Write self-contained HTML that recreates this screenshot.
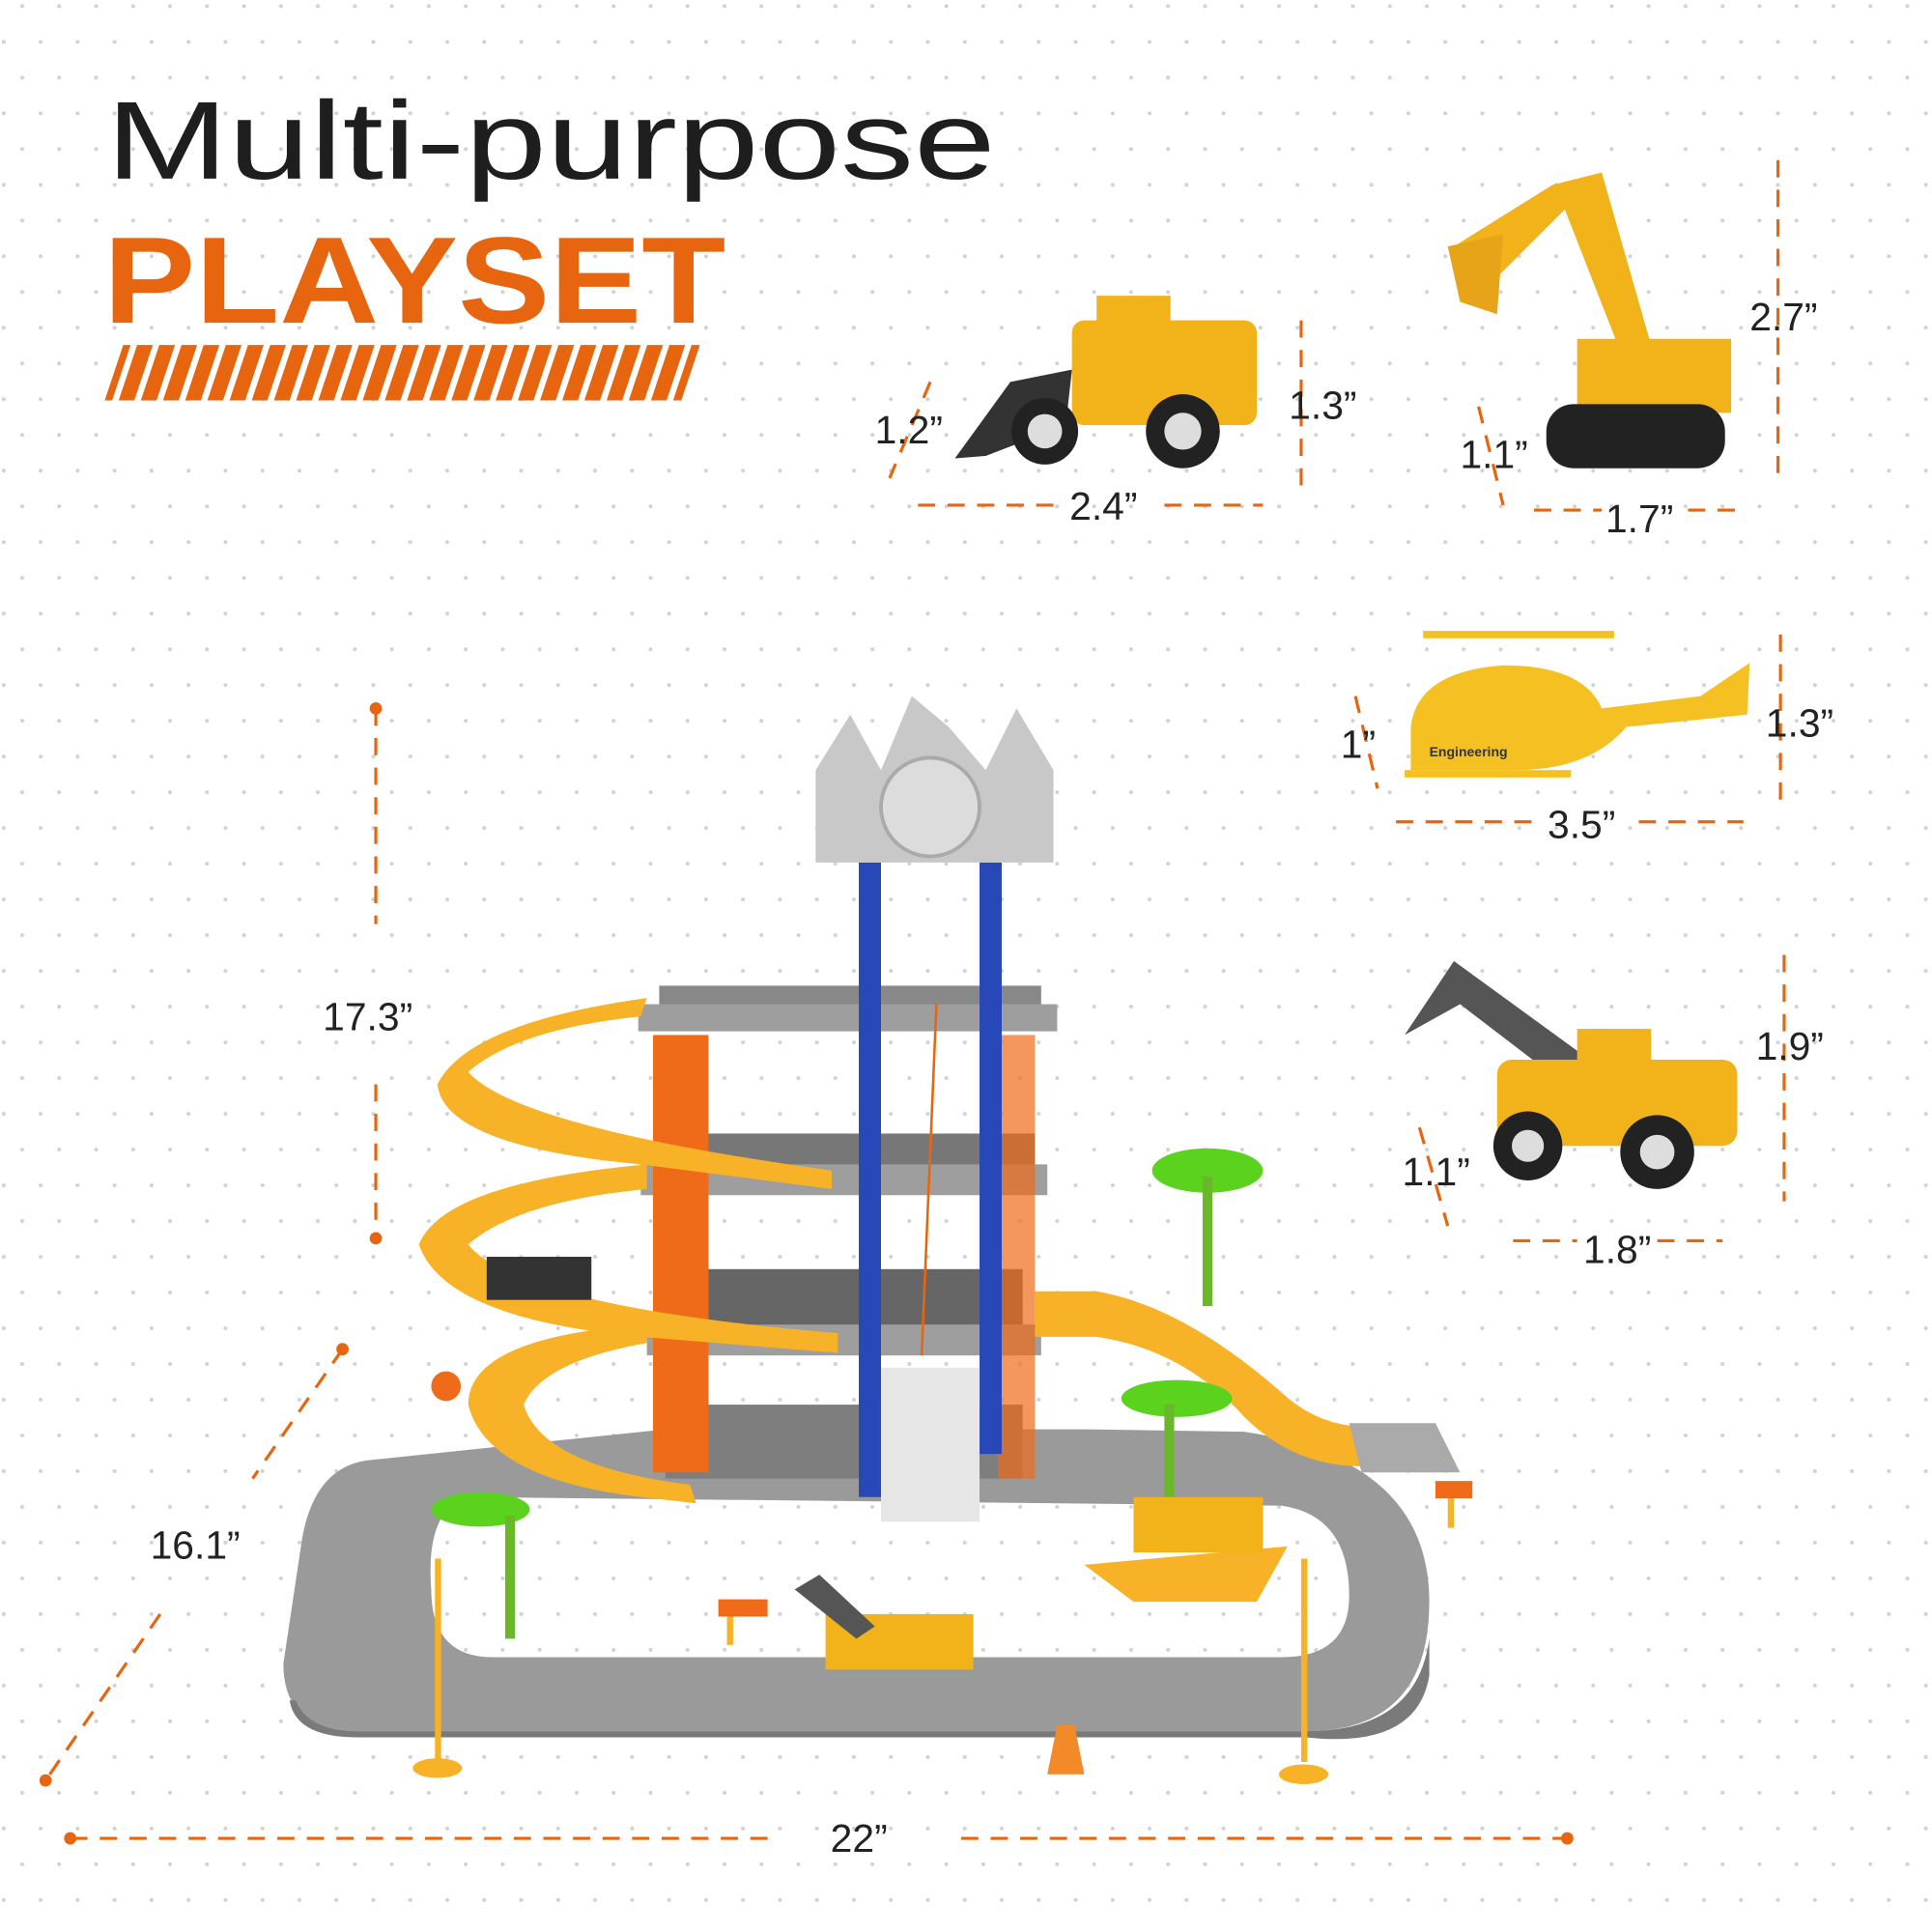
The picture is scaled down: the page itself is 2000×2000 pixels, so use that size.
<!DOCTYPE html>
<html><head><meta charset="utf-8"><style>
html,body{margin:0;padding:0;background:#fff;}
svg{display:block;}
text{font-family:"Liberation Sans",sans-serif;}
</style></head><body>
<svg width="2000" height="2000" viewBox="0 0 1568 1568" xmlns="http://www.w3.org/2000/svg">
<defs>
<pattern id="dots" x="0" y="0" width="30" height="58" patternUnits="userSpaceOnUse">
<circle cx="18" cy="5" r="1.6" fill="#d2d2d2"/>
<circle cx="3" cy="34" r="1.6" fill="#d2d2d2"/>
</pattern>
</defs>
<rect width="1568" height="1568" fill="#fff"/>
<rect width="1568" height="1568" fill="url(#dots)"/>

<!-- Title -->
<text x="86" y="145" font-size="90" fill="#1e1e1e" textLength="722" lengthAdjust="spacingAndGlyphs">Multi-purpose</text>
<text x="84" y="262" font-size="100" fill="#e8650f" font-weight="bold" textLength="505" lengthAdjust="spacingAndGlyphs">PLAYSET</text>
<g fill="#e8650f">
<polygon points="100,280 568,280 553,325 85,325"/>
</g>
<g stroke="#fff" stroke-width="5">
<path d="M110,276 L92,330 M128,276 L110,330 M146,276 L128,330 M164,276 L146,330 M182,276 L164,330 M200,276 L182,330 M218,276 L200,330 M236,276 L218,330 M254,276 L236,330 M272,276 L254,330 M290,276 L272,330 M308,276 L290,330 M326,276 L308,330 M344,276 L326,330 M362,276 L344,330 M380,276 L362,330 M398,276 L380,330 M416,276 L398,330 M434,276 L416,330 M452,276 L434,330 M470,276 L452,330 M488,276 L470,330 M506,276 L488,330 M524,276 L506,330 M542,276 L524,330 M560,276 L542,330"/>
</g>

<!-- dimension lines -->
<g stroke="#e8650f" stroke-width="2.5" fill="none" stroke-dasharray="14,10">
<path d="M745,410 H855 M945,410 H1025"/>
<path d="M1056,260 V400"/>
<path d="M755,310 L722,388"/>
<path d="M1443,130 V385"/>
<path d="M1245,414 H1300 M1370,414 H1413"/>
<path d="M1200,330 L1220,410"/>
<path d="M1445,515 V655"/>
<path d="M1133,667 H1245 M1330,667 H1415"/>
<path d="M1100,565 L1118,640"/>
<path d="M1448,775 V975"/>
<path d="M1228,1007 H1280 M1345,1007 H1398"/>
<path d="M1152,915 L1175,995"/>
<path d="M305,575 V750 M305,880 V1005"/>
<path d="M278,1095 L205,1200 M130,1310 L37,1445"/>
<path d="M57,1492 H630 M780,1492 H1272"/>
</g>
<g fill="#e8650f">
<circle cx="305" cy="575" r="5"/><circle cx="305" cy="1005" r="5"/>
<circle cx="278" cy="1095" r="5"/><circle cx="37" cy="1445" r="5"/>
<circle cx="57" cy="1492" r="5"/><circle cx="1272" cy="1492" r="5"/>
</g>
<g font-size="32" fill="#222">
<text x="710" y="360">1.2”</text>
<text x="868" y="422">2.4”</text>
<text x="1046" y="340">1.3”</text>
<text x="1420" y="268">2.7”</text>
<text x="1185" y="380">1.1”</text>
<text x="1303" y="432">1.7”</text>
<text x="1088" y="615">1”</text>
<text x="1433" y="598">1.3”</text>
<text x="1256" y="680">3.5”</text>
<text x="1425" y="860">1.9”</text>
<text x="1138" y="962">1.1”</text>
<text x="1285" y="1025">1.8”</text>
<text x="262" y="836">17.3”</text>
<text x="122" y="1265">16.1”</text>
<text x="674" y="1503">22”</text>
</g>

<!-- Loader top -->
<g>
<polygon points="775,372 820,310 870,300 865,345 800,370" fill="#333"/>
<rect x="870" y="260" width="150" height="85" rx="10" fill="#f2b21a"/>
<rect x="890" y="240" width="60" height="40" fill="#f2b21a"/>
<circle cx="848" cy="350" r="27" fill="#222"/><circle cx="848" cy="350" r="14" fill="#ddd"/>
<circle cx="960" cy="350" r="30" fill="#222"/><circle cx="960" cy="350" r="15" fill="#ddd"/>
</g>
<!-- Excavator -->
<g>
<polygon points="1180,200 1260,150 1300,140 1340,280 1315,285 1270,170 1215,225" fill="#f2b21a"/>
<polygon points="1175,200 1220,190 1215,255 1185,245" fill="#e8a418"/>
<rect x="1280" y="275" width="125" height="60" fill="#f2b21a"/>
<rect x="1255" y="328" width="145" height="52" rx="22" fill="#222"/>
</g>
<!-- Helicopter -->
<g>
<path d="M1145,590 Q1150,545 1220,540 Q1285,540 1300,575 L1380,565 L1420,538 L1418,580 L1320,590 Q1290,625 1230,625 L1145,625 Z" fill="#f5c022"/>
<rect x="1155" y="512" width="155" height="6" fill="#f5c022"/>
<rect x="1140" y="625" width="135" height="6" fill="#f5c022"/>
<text x="1160" y="614" font-size="11" fill="#333" font-weight="bold">Engineering</text>
</g>
<!-- Loader 3 -->
<g>
<polygon points="1140,840 1180,780 1290,860 1270,880 1185,815" fill="#555"/>
<rect x="1215" y="860" width="195" height="70" rx="12" fill="#f2b21a"/>
<rect x="1280" y="835" width="60" height="40" fill="#f2b21a"/>
<circle cx="1240" cy="930" r="28" fill="#222"/><circle cx="1345" cy="935" r="30" fill="#222"/>
<circle cx="1240" cy="930" r="13" fill="#ddd"/><circle cx="1345" cy="935" r="14" fill="#ddd"/>
</g>

<!-- Playset road loop -->
<path d="M300,1185 L540,1160 L590,1160 L880,1160 L1010,1162 Q1160,1185 1160,1300 Q1160,1405 1060,1405 L290,1405 Q230,1405 230,1350 L245,1250 Q255,1190 300,1185 Z M380,1215 Q345,1225 350,1290 Q350,1345 400,1345 L1040,1345 Q1095,1345 1095,1295 Q1095,1230 1040,1222 Z" fill="#9a9a9a" fill-rule="evenodd"/>
<path d="M240,1380 Q250,1405 290,1405 L1060,1405 Q1150,1405 1160,1330 L1160,1360 Q1150,1420 1060,1410 L290,1410 Q240,1410 235,1380Z" fill="#7a7a7a"/>
<!-- building floors -->
<rect x="540" y="1140" width="290" height="60" fill="#7e7e7e"/>
<rect x="540" y="1030" width="290" height="70" fill="#666"/>
<rect x="525" y="1075" width="320" height="25" fill="#9e9e9e"/>
<rect x="540" y="920" width="300" height="40" fill="#777"/>
<rect x="520" y="945" width="330" height="25" fill="#9e9e9e"/>
<rect x="535" y="800" width="310" height="25" fill="#888"/>
<rect x="518" y="815" width="340" height="22" fill="#9e9e9e"/>
<!-- orange pillars -->
<rect x="530" y="840" width="45" height="355" fill="#ef6b1a"/>
<rect x="810" y="840" width="30" height="360" fill="#ef6b1a" opacity="0.7"/>
<!-- blue pillars -->
<rect x="697" y="700" width="18" height="515" fill="#2848b8"/>
<rect x="795" y="700" width="18" height="480" fill="#2848b8"/>
<!-- stairs -->
<rect x="715" y="1110" width="80" height="125" fill="#e6e6e6"/>
<!-- clock tower -->
<polygon points="662,625 690,580 715,625 740,565 770,590 800,625 825,575 855,625 855,700 662,700" fill="#c8c8c8"/>
<circle cx="755" cy="655" r="40" fill="#dcdcdc" stroke="#aaa" stroke-width="3"/>
<line x1="760" y1="815" x2="748" y2="1100" stroke="#e8650f" stroke-width="2"/>
<!-- yellow ramps -->
<path d="M525,810 Q380,830 355,880 Q360,930 520,945 L675,965 L675,950 Q420,915 380,870 Q420,835 520,825 Z" fill="#f7b228"/>
<path d="M525,945 Q360,960 340,1010 Q360,1070 520,1085 L680,1098 L680,1082 Q420,1060 380,1010 Q420,975 525,965 Z" fill="#f7b228"/>
<path d="M525,1075 Q380,1085 380,1140 Q395,1200 520,1215 L565,1220 L560,1205 Q440,1190 425,1140 Q440,1105 525,1090 Z" fill="#f7b228"/>
<path d="M840,1048 L890,1048 Q960,1060 1040,1130 Q1070,1158 1110,1158 L1105,1190 Q1050,1190 1010,1150 Q960,1095 890,1085 L840,1085 Z" fill="#f7b228"/>
<polygon points="1095,1155 1165,1155 1185,1195 1105,1195" fill="#aaa"/>
<!-- palm trees -->
<g fill="#5ad21e">
<ellipse cx="980" cy="950" rx="45" ry="18"/><rect x="976" y="955" width="8" height="105" fill="#6ab82a"/>
<ellipse cx="955" cy="1135" rx="45" ry="15"/><rect x="945" y="1140" width="8" height="75" fill="#6ab82a"/>
<ellipse cx="390" cy="1225" rx="40" ry="14"/><rect x="410" y="1230" width="8" height="100" fill="#6ab82a"/>
</g>
<!-- small vehicles -->
<polygon points="880,1270 1045,1255 1020,1300 920,1300" fill="#f7b228"/>
<rect x="920" y="1215" width="105" height="45" fill="#f2b21a"/>
<rect x="670" y="1310" width="120" height="45" fill="#f2b21a"/>
<polygon points="645,1290 665,1278 710,1320 695,1330" fill="#555"/>
<rect x="395" y="1020" width="85" height="35" fill="#333"/>
<!-- lamps, cones -->
<g fill="#f7b228">
<rect x="353" y="1265" width="5" height="170"/><ellipse cx="355" cy="1435" rx="20" ry="8"/>
<rect x="1056" y="1265" width="5" height="165"/><ellipse cx="1058" cy="1440" rx="20" ry="8"/>
<polygon points="858,1400 872,1400 880,1440 850,1440" fill="#f28a2a"/>
<rect x="1175" y="1205" width="5" height="35"/>
<rect x="590" y="1305" width="5" height="30"/>
</g>
<rect x="583" y="1298" width="40" height="14" fill="#ef6b1a"/>
<rect x="1165" y="1202" width="30" height="14" fill="#ef6b1a"/>
<circle cx="362" cy="1125" r="12" fill="#ef6b1a"/>
</svg>
</body></html>
